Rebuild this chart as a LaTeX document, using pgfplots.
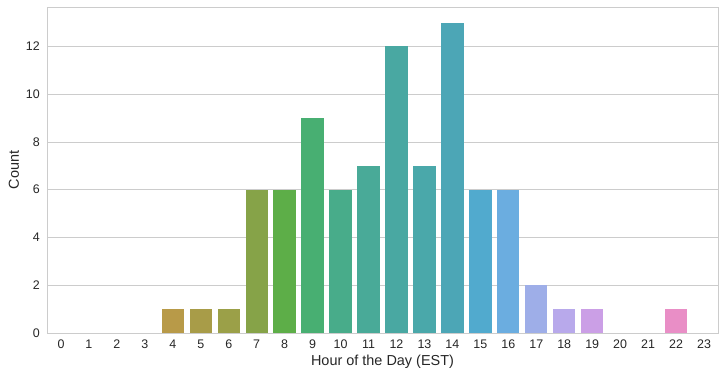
\documentclass[border=0pt]{standalone}
\usepackage{pgfplots}
\pgfplotsset{compat=1.18}
\usepackage{fontspec}
\setmainfont{Liberation Sans}
\definecolor{tickc}{HTML}{262626}
\definecolor{gridc}{HTML}{CCCCCC}
\definecolor{c4}{RGB}{184,154,72}
\definecolor{c5}{RGB}{168,156,72}
\definecolor{c6}{RGB}{155,160,72}
\definecolor{c7}{RGB}{134,163,72}
\definecolor{c8}{RGB}{93,174,72}
\definecolor{c9}{RGB}{72,175,114}
\definecolor{c10}{RGB}{72,172,138}
\definecolor{c11}{RGB}{73,170,152}
\definecolor{c12}{RGB}{73,168,162}
\definecolor{c13}{RGB}{74,168,170}
\definecolor{c14}{RGB}{76,166,182}
\definecolor{c15}{RGB}{81,170,206}
\definecolor{c16}{RGB}{107,173,224}
\definecolor{c17}{RGB}{158,174,232}
\definecolor{c18}{RGB}{184,169,235}
\definecolor{c19}{RGB}{203,159,230}
\definecolor{c22}{RGB}{233,142,198}
\begin{document}
\begin{tikzpicture}
\begin{axis}[
  scale only axis,
  width=671bp, height=326bp,
  xmin=-0.5, xmax=23.5,
  ymin=0, ymax=13.65,
  xtick={0,...,23},
  ytick={0,2,4,6,8,10,12},
  ymajorgrids,
  grid style={gridc, line width=0.8pt},
  axis line style={gridc, line width=0.8pt},
  major tick length=0pt,
  tick label style={font=\fontsize{12.5}{14}\selectfont, text=tickc, inner sep=0pt},
  xticklabel shift=7bp,
  yticklabel shift=7bp,
  label style={font=\fontsize{14.5}{16}\selectfont, text=tickc},
  xlabel={Hour of the Day (EST)},
  ylabel={Count},
  xlabel style={at={(axis description cs:0.5,-0.089)}, anchor=center},
  ylabel style={at={(axis description cs:-0.0492,0.5)}, anchor=center},
  /pgf/number format/assume math mode=true,
  ybar, bar width=0.8, bar shift=0pt,
  every axis plot/.append style={draw=none},
]
\addplot[fill=c4] coordinates {(4,1)};
\addplot[fill=c5] coordinates {(5,1)};
\addplot[fill=c6] coordinates {(6,1)};
\addplot[fill=c7] coordinates {(7,6)};
\addplot[fill=c8] coordinates {(8,6)};
\addplot[fill=c9] coordinates {(9,9)};
\addplot[fill=c10] coordinates {(10,6)};
\addplot[fill=c11] coordinates {(11,7)};
\addplot[fill=c12] coordinates {(12,12)};
\addplot[fill=c13] coordinates {(13,7)};
\addplot[fill=c14] coordinates {(14,13)};
\addplot[fill=c15] coordinates {(15,6)};
\addplot[fill=c16] coordinates {(16,6)};
\addplot[fill=c17] coordinates {(17,2)};
\addplot[fill=c18] coordinates {(18,1)};
\addplot[fill=c19] coordinates {(19,1)};
\addplot[fill=c22] coordinates {(22,1)};
\end{axis}
\pgfresetboundingbox
\useasboundingbox ([xshift=-47bp,yshift=-44bp]current axis.south west) rectangle ([xshift=5bp,yshift=7bp]current axis.north east);
\end{tikzpicture}
\end{document}
